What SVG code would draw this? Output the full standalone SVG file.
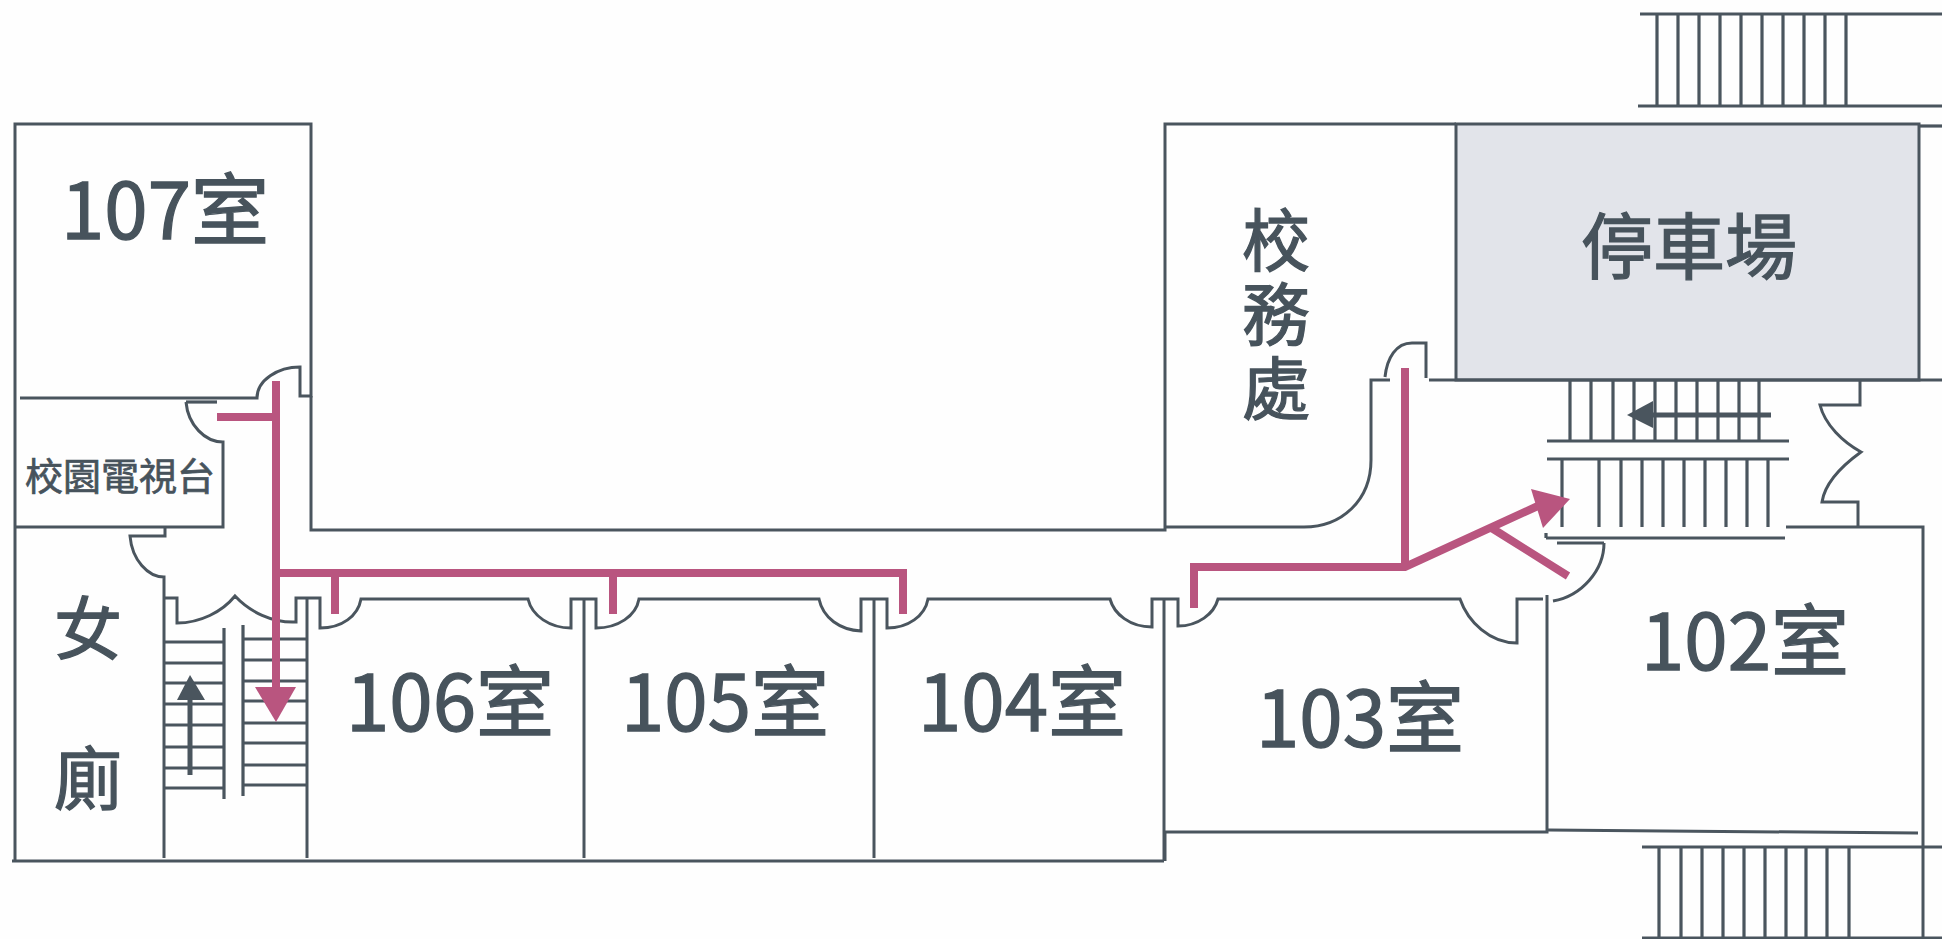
<svg xmlns="http://www.w3.org/2000/svg" width="1942" height="939" viewBox="0 0 1942 939">
<style>
.w{fill:none;stroke:#4a555e;stroke-width:3}
.s{fill:none;stroke:#4a555e;stroke-width:3.2}
.p{fill:none;stroke:#b9557f;stroke-width:8}
.ph{fill:#b9557f}
.dh{fill:#4a555e}
.d{fill:none;stroke:#4a555e;stroke-width:5}
text{fill:#47535c;stroke:#47535c;stroke-width:1.3;font-family:"Noto Sans CJK TC","Noto Sans",sans-serif;text-anchor:middle}
.l{font-size:78px}
.c{font-size:68px}
.t{font-size:38px;stroke-width:.7}
.v{font-size:68px;writing-mode:vertical-rl;letter-spacing:6px;text-anchor:start}
</style>
<rect width="1942" height="939" fill="#fefefe"/>
<g id="parking">
<rect x="1456" y="124" width="463" height="256" fill="#e2e4ea" stroke="#4a555e" stroke-width="3"/>
<text x="1689" y="273" style="font-size:72px">停車場</text>
</g>
<g id="walls">
<path class="w" d="M15 861V124H311V396H300V367C278 367 257 380 257 398H20"/>
<path class="w" d="M12 861H1164"/>
<path class="w" d="M186 402C188 425 205 442 223 442V527H15"/>
<path class="s" d="M186 402H217"/>
<path class="w" d="M165 527V536H130C132 560 148 577 164 577V858"/>
<path class="w" d="M164 598H177V623C200 623 222 612 235 596C250 612 272 623 296 622V598H320V628C342 628 358 616 361 599H528C532 616 550 628 571 628V599H596V628C618 628 636 616 639 599H819C823 618 840 630 861 631V599H887V628C908 628 925 616 928 599H1110C1114 614 1130 627 1152 627V599H1178V626C1198 626 1214 614 1218 599H1460C1468 622 1490 643 1517 643V599H1543"/>
<path class="w" d="M307 598V858M584 599V858M874 599V858M1164 599V861"/>
<path class="w" d="M311 396V530H1165V124H1456"/>
<path class="w" d="M1165 527H1304C1342 527 1371 500 1371 460V380H1390"/>
<path class="w" d="M1385 377C1387 358 1396 343 1412 343H1426V378"/>
<path class="w" d="M1429 380H1942"/>
<path class="w" d="M1860 380V405H1820C1825 425 1843 442 1861 452C1843 465 1825 482 1822 502H1858V527"/>
<path class="w" d="M1786 527H1923V939"/>
<path class="w" d="M1547 595V832H1165V861"/>
<path class="w" d="M1548 830L1918 833"/>
<path class="w" d="M1553 601C1582 596 1604 570 1604 543"/>
<path class="s" d="M1557 543H1604"/>
<path class="s" d="M1919 126H1942"/>
</g>
<g id="stairs">
<path class="s" d="M164 642H224M164 663H224M164 683H224M164 704H224M164 725H224M164 747H224M164 768H224M164 788H224M224 628V799"/>
<path class="s" d="M243 639H307M243 660H307M243 681H307M243 701H307M243 723H307M243 743H307M243 765H307M243 785H307M243 625V796"/>
<path class="s" d="M1570 380V441M1591 380V441M1613 380V441M1634 380V441M1655 380V441M1676 380V441M1697 380V441M1718 380V441M1739 380V441M1759 380V441M1547 441H1789M1547 459H1789"/>
<path class="s" d="M1562 459V527M1599 459V527M1621 459V527M1642 459V527M1663 459V527M1684 459V527M1705 459V527M1726 459V527M1747 459V527M1768 459V527M1546 538H1785M1546 533V538"/>
<path class="s" d="M1640 14H1942M1638 106H1942M1657 14V106M1678 14V106M1699 14V106M1720 14V106M1741 14V106M1762 14V106M1783 14V106M1804 14V106M1825 14V106M1846 14V106"/>
<path class="s" d="M1642 847H1942M1642 938H1942M1659 847V938M1681 847V938M1702 847V938M1723 847V938M1744 847V938M1765 847V938M1786 847V938M1806 847V938M1827 847V938M1849 847V938"/>
</g>
<g id="connectors">
<path class="d" d="M190 775V695"/>
<path class="dh" d="M190 675L205 700H177Z"/>
<path class="d" d="M1771 415H1645"/>
<path class="dh" d="M1627 415L1653 401V428Z"/>
<path class="p" d="M276 381V695M217 417H276M276 573H903V614M335 573V614M613 573V614"/>
<path class="ph" d="M276 722L255 687H296Z"/>
<path class="p" d="M1405 368V567M1194 608V567H1405L1540 505M1490 527L1568 576"/>
<path class="ph" d="M1570 499L1531 489L1543 528Z"/>
</g>
<g id="room-107"><text class="l" x="165" y="239">107室</text></g>
<g id="room-106"><text class="l" x="450" y="731">106室</text></g>
<g id="room-105"><text class="l" x="725" y="731">105室</text></g>
<g id="room-104"><text class="l" x="1022" y="731">104室</text></g>
<g id="room-103"><text class="l" x="1360" y="747">103室</text></g>
<g id="room-102"><text class="l" x="1745" y="670">102室</text></g>
<g id="tv"><text class="t" x="120" y="490">校園電視台</text></g>
<g id="office"><text class="v" x="1276" y="206">校務處</text></g>
<g id="wc"><text class="c" x="88" y="654">女</text><text class="c" x="88" y="804">廁</text></g>
</svg>
